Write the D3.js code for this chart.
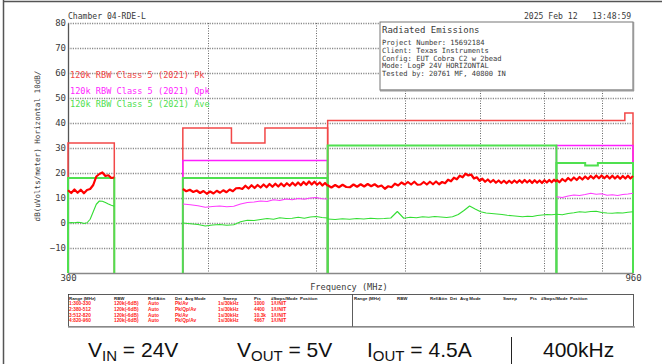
<!DOCTYPE html>
<html><head><meta charset="utf-8">
<script src="https://cdn.jsdelivr.net/npm/d3@7"></script>
<style>
html,body{margin:0;padding:0;background:#fff;}
svg{display:block;}
</style></head><body>
<svg id="chart" width="662" height="364"></svg>
<script>
// ---- Scan ranges (MHz) ----
const segments = [
  {id: 1, start: 300, stop: 330},
  {id: 2, start: 380, stop: 512},
  {id: 3, start: 512, stop: 820},
  {id: 4, start: 820, stop: 960}
];

const yTicks = [-10, 0, 10, 20, 30, 40, 50, 60, 70, 80];
const xGridFreqs = [400, 500, 600, 700, 800, 900];
const xTickLabels = [300, 960];

// ---- Peak detector trace, dBuV/m, one list per scan range ----
const peak1 = [13.1, 12.0, 13.4, 12.1, 13.3, 11.9, 13.2, 13.6, 15.2, 18.6, 19.6, 20.2, 18.8, 19.1, 18.0, 18.2];
const peak2 = [13.6, 12.7, 13.3, 12.4, 13.0, 12.0, 12.8, 11.7, 12.6, 11.8, 12.9, 12.1, 13.1, 12.3, 13.4, 12.7,
               13.9, 14.0, 13.6, 14.9, 13.8, 15.1, 14.0, 15.2, 14.2, 15.4, 14.3, 15.6, 14.5, 15.7, 14.6, 15.8,
               14.7, 15.9, 14.9, 16.1, 15.0, 16.2, 15.1, 16.4, 15.3, 16.6, 15.4, 16.5, 15.3, 16.2, 15.0, 16.0, 14.9];
const peak3 = [15.1, 14.2, 15.2, 14.3, 15.3, 14.4, 14.3, 15.4, 14.5, 15.5, 14.6, 15.6, 14.7, 15.5, 14.5, 15.0,
               13.7, 14.7, 14.3, 15.7, 15.0, 16.2, 15.4, 16.4, 15.4, 16.5, 15.3, 15.4, 16.4, 15.4, 16.5, 15.5,
               16.6, 15.5, 16.4, 15.9, 17.3, 16.7, 18.1, 17.5, 18.9, 18.3, 19.7, 19.0, 19.4, 17.8, 18.3, 16.9,
               17.7, 16.5, 17.4, 16.3, 17.2, 16.1, 17.0, 16.0, 16.9, 15.9, 16.9, 16.0, 17.0, 16.1, 17.1, 16.1,
               17.2, 16.2, 17.1, 16.0, 17.1, 16.1, 17.0, 16.0, 17.1, 16.2, 17.2, 16.3, 17.3, 16.4];
const peak4 = [17.4, 16.3, 17.6, 16.7, 18.0, 17.0, 18.2, 17.2, 18.4, 17.4, 18.6, 17.6, 18.8, 17.8, 19.0,
               17.9, 19.0, 17.9, 18.9, 17.8, 18.9, 17.8, 18.8, 17.7, 18.8, 17.8, 18.9, 17.8, 18.8];

// ---- Quasi-peak trace (ranges 2 and 4) ----
const qpk2 = [7.6, 7.3, 6.9, 6.3, 6.6, 6.8, 6.5, 6.7, 7.6, 8.2, 8.4, 8.8, 8.6, 9.3, 9.0, 9.6, 9.3, 9.8, 9.5, 10.0, 10.2, 9.7, 9.6];
const qpk4 = [10.5, 10.2, 10.8, 11.2, 11.0, 11.4, 11.9, 11.5, 11.7, 11.1, 11.3, 11.0, 11.4, 11.6, 11.9];

// ---- Average trace ----
const avg1 = [0.0, 0.2, 0.1, 0.3, 0.2, -0.2, 0.1, 1.5, 4.5, 7.5, 8.8, 8.7, 8.2, 7.6, 7.1, 6.7];
const avg2 = [0.0, -0.3, -0.6, -1.2, -0.8, -0.6, -0.9, -0.7, 0.5, 1.1, 1.0, 1.4, 1.8, 1.5, 2.1, 1.8, 1.9, 2.3, 1.9, 2.4, 2.6, 2.2, 2.0];
const avg3 = [1.6, 1.4, 1.7, 1.5, 1.8, 1.6, 1.9, 1.7, 1.8, 2.0, 4.6, 1.9, 2.3, 2.1, 2.5, 2.3, 2.6, 2.4, 2.2, 2.5,
              3.4, 5.0, 6.8, 5.6, 4.5, 4.0, 3.8, 3.6, 3.4, 3.1, 2.9, 2.7, 2.5, 2.7, 2.6, 3.0, 3.2, 3.4, 3.3, 3.5];
const avg4 = [3.5, 3.3, 3.8, 4.1, 4.5, 4.3, 4.6, 4.7, 4.2, 4.0, 3.9, 4.1, 4.0, 4.3, 4.5];

// ---- CISPR 25 Class 5 limits, [MHz, dBuV/m] vertices per range ----
const pkLimit = [
  [[300, 32], [330, 32]],
  [[380, 38], [420, 38], [420, 32], [450, 32], [450, 38], [512, 38]],
  [[512, 41], [944, 41], [944, 44], [960, 44]]
];
const qpkLimit = [
  [[380, 25], [512, 25]],
  [[820, 31], [960, 31]]
];
const avgLimit = [
  [[300, 18], [330, 18]],
  [[380, 18], [512, 18]],
  [[512, 31], [820, 31]],
  [[820, 24], [870, 24], [870, 23], [893, 23], [893, 24], [960, 24]]
];

const limitLabels = [
  "120k RBW Class 5 (2021) Pk",
  "120k RBW Class 5 (2021) Qpk",
  "120k RBW Class 5 (2021) Ave"
];

const infoTitle = "Radiated Emissions";
const infoLines = [
  "Project Number: 15692184",
  "Client: Texas Instruments",
  "Config: EUT Cobra C2 w 2bead",
  "Mode: LogP 24V HORIZONTAL",
  "Tested by: 20761 MF, 40800 IN"
];

const tableHeaders = ["Range (MHz)", "RBW", "Ref/Attn", "Det", "Avg Mode", "Sweep", "Pts", "#Swps/Mode", "Position"];
const tableRows = [
  ["1:300-330", "120k(-6dB)", "Auto", "Pk/Av",    "", "1s/30kHz", "1000",  "1/UNIT", ""],
  ["2:380-512", "120k(-6dB)", "Auto", "Pk/Qp/Av", "", "1s/30kHz", "4400",  "1/UNIT", ""],
  ["3:512-820", "120k(-6dB)", "Auto", "Pk/Av",    "", "1s/30kHz", "10.3k", "1/UNIT", ""],
  ["4:820-960", "120k(-6dB)", "Auto", "Pk/Qp/Av", "", "1s/30kHz", "4667",  "1/UNIT", ""]
];

// ---- Drawing ----
const svg = d3.select("#chart");
const MONO = "'DejaVu Sans Mono', monospace";
const SANS = "'Liberation Sans', Arial, sans-serif";
const C = {pk: "#ff0000", pkLim: "#f24848", qpk: "#ff3cff", qpkLim: "#ff1eff", avg: "#33dd33", avgLim: "#4fe04f", grid: "#8a8a8a", text: "#3a3a3a"};

const x = d3.scaleLog().domain([300, 960]).range([68, 633]);
const y = d3.scaleLinear().domain([-20, 80]).range([273, 23]);

// outer frame
svg.append("line").attr("x1", 3.5).attr("x2", 3.5).attr("y1", 0).attr("y2", 364).attr("stroke", "#555").attr("stroke-width", 1.5);
svg.append("line").attr("x1", 3).attr("x2", 662).attr("y1", 1.5).attr("y2", 1.5).attr("stroke", "#555").attr("stroke-width", 1.5);

// grid
const grid = svg.append("g");
grid.selectAll("line.h").data(yTicks).join("line")
  .attr("x1", x(300)).attr("x2", x(960))
  .attr("y1", d => y(d) + 0.5).attr("y2", d => y(d) + 0.5)
  .attr("stroke", C.grid).attr("stroke-width", 1.4).attr("stroke-dasharray", "1.2,1.2");
grid.selectAll("line.v").data(xGridFreqs).join("line")
  .attr("x1", d => Math.round(x(d)) + 0.5).attr("x2", d => Math.round(x(d)) + 0.5)
  .attr("y1", y(80)).attr("y2", y(-20))
  .attr("stroke", "#666").attr("stroke-width", 1).attr("stroke-dasharray", "1,1.5");

// axes
const yAxis = d3.axisLeft(y).tickValues(yTicks).tickSize(0).tickPadding(2);
const gy = svg.append("g").attr("transform", `translate(${x(300)},0)`).call(yAxis);
gy.select(".domain").attr("stroke", "#555").attr("stroke-width", 1.3);
gy.selectAll("text").attr("font-family", MONO).attr("font-size", 9).attr("fill", C.text);

const xAxis = d3.axisBottom(x).tickValues(xTickLabels).tickFormat(d3.format("d")).tickSize(0).tickPadding(2);
const gx = svg.append("g").attr("transform", `translate(0,${y(-20)})`).call(xAxis);
gx.select(".domain").attr("stroke", "#888").attr("stroke-width", 1.3);
gx.selectAll("text").attr("font-family", MONO).attr("font-size", 9).attr("fill", C.text);

svg.append("text").attr("x", 349).attr("y", 290).attr("text-anchor", "middle")
  .attr("font-family", MONO).attr("font-size", 8.6).attr("fill", C.text).text("Frequency (MHz)");
svg.append("text").attr("transform", "translate(40,146) rotate(-90)").attr("text-anchor", "middle")
  .attr("font-family", MONO).attr("font-size", 7.6).attr("fill", C.text).text("dB(uVolts/meter) Horizontal 10dB/");
svg.append("text").attr("x", 68).attr("y", 19)
  .attr("font-family", MONO).attr("font-size", 8.1).attr("fill", C.text).text("Chamber 04-RDE-L");
svg.append("text").attr("x", 524).attr("y", 19)
  .attr("font-family", MONO).attr("font-size", 8.1).attr("fill", C.text).attr("xml:space", "preserve").text("2025 Feb 12   13:48:59");

// info box
svg.append("rect").attr("x", 380).attr("y", 22).attr("width", 253).attr("height", 68)
  .attr("fill", "#fff").attr("stroke", "#777").attr("stroke-width", 1);
svg.append("line").attr("x1", 380).attr("x2", 634).attr("y1", 90.5).attr("y2", 90.5).attr("stroke", "#999").attr("stroke-width", 2);
svg.append("line").attr("x1", 633.5).attr("x2", 633.5).attr("y1", 22).attr("y2", 91).attr("stroke", "#999").attr("stroke-width", 1.5);
svg.append("text").attr("x", 382).attr("y", 33).attr("font-family", MONO).attr("font-size", 9).attr("fill", C.text).text(infoTitle);
svg.append("g").selectAll("text").data(infoLines).join("text")
  .attr("x", 382).attr("y", (d, i) => 45 + i * 7.8)
  .attr("font-family", MONO).attr("font-size", 7.1).attr("fill", C.text).text(d => d);

// limit labels
const labelColors = [C.pkLim, C.qpkLim, C.avgLim];
svg.append("g").selectAll("text").data(limitLabels).join("text")
  .attr("x", 70).attr("y", (d, i) => [78, 93.5, 107][i])
  .attr("font-family", MONO).attr("font-size", 8.6).attr("fill", (d, i) => labelColors[i]).text(d => d);

// limit lines: each range drops to the floor at its ends
const line = d3.line().x(d => x(d[0])).y(d => y(d[1]));
function limitPath(pts) {
  return line([[pts[0][0], -20], ...pts, [pts[pts.length - 1][0], -20]]);
}
const lim = svg.append("g").attr("fill", "none");
lim.selectAll("path.pk").data(pkLimit).join("path").attr("d", limitPath).attr("stroke", C.pkLim).attr("stroke-width", 1.5);
lim.selectAll("path.qp").data(qpkLimit).join("path").attr("d", limitPath).attr("stroke", C.qpkLim).attr("stroke-width", 1.5);
lim.selectAll("path.av").data(avgLimit).join("path").attr("d", limitPath).attr("stroke", C.avgLim).attr("stroke-width", 2);

// measured traces
function tracePts(seg, vals) {
  const step = (seg.stop - seg.start) / (vals.length - 1);
  return vals.map((v, i) => [seg.start + i * step, v]);
}
const traces = svg.append("g").attr("fill", "none").attr("stroke-linejoin", "round");
[peak1, peak2, peak3, peak4].forEach((vals, i) => {
  traces.append("path").attr("d", line(tracePts(segments[i], vals))).attr("stroke", C.pk).attr("stroke-width", 2.2);
});
[[1, qpk2], [3, qpk4]].forEach(([i, vals]) => {
  traces.append("path").attr("d", line(tracePts(segments[i], vals))).attr("stroke", C.qpk).attr("stroke-width", 1.1);
});
[avg1, avg2, avg3, avg4].forEach((vals, i) => {
  traces.append("path").attr("d", line(tracePts(segments[i], vals))).attr("stroke", C.avg).attr("stroke-width", 1.1);
});

// scan settings table
const tbl = svg.append("g");
tbl.append("rect").attr("x", 68.5).attr("y", 294.5).attr("width", 565).attr("height", 32).attr("fill", "none").attr("stroke", "#333").attr("stroke-width", 0.8);
tbl.append("line").attr("x1", 68).attr("x2", 635).attr("y1", 327).attr("y2", 327).attr("stroke", "#999").attr("stroke-width", 1.6);
tbl.append("line").attr("x1", 352.5).attr("x2", 352.5).attr("y1", 294.5).attr("y2", 326.5).attr("stroke", "#333").attr("stroke-width", 0.8);
const colL = [69, 114, 148, 175, 185, 218, 254, 271, 300];
const headerL = [69, 114, 148, 175, 185, 223, 254, 271, 300];
const headerR = [354, 397, 430, 450, 460, 503, 530, 541, 570];
[headerL, headerR].forEach(cols => {
  tbl.append("g").selectAll("text").data(tableHeaders).join("text")
    .attr("x", (d, i) => cols[i]).attr("y", 299.5)
    .attr("font-family", SANS).attr("font-size", 4.4).attr("font-weight", "bold").attr("fill", "#222")
    .text(d => d);
});
tableRows.forEach((row, r) => {
  tbl.append("g").selectAll("text").data(row).join("text")
    .attr("x", (d, i) => colL[i]).attr("y", 305 + r * 5.8)
    .attr("font-family", SANS).attr("font-size", 4.8).attr("font-weight", "bold").attr("fill", "#ff1a1a")
    .text(d => d);
});

// operating conditions
const cond = svg.append("g").attr("font-family", SANS).attr("fill", "#111");
function condText(xp, main, sub, rest) {
  const t = cond.append("text").attr("x", xp).attr("y", 357).attr("font-size", 21);
  t.append("tspan").text(main);
  if (sub) t.append("tspan").attr("font-size", 15).attr("dy", 4).text(sub);
  t.append("tspan").attr("dy", sub ? -4 : 0).text(rest);
}
condText(88, "V", "IN", " = 24V");
condText(237, "V", "OUT", " = 5V");
condText(367, "I", "OUT", " = 4.5A");
condText(543, "400kHz", null, "");
cond.append("line").attr("x1", 511.5).attr("x2", 511.5).attr("y1", 337).attr("y2", 364).attr("stroke", "#222").attr("stroke-width", 1);
</script>
</body></html>
